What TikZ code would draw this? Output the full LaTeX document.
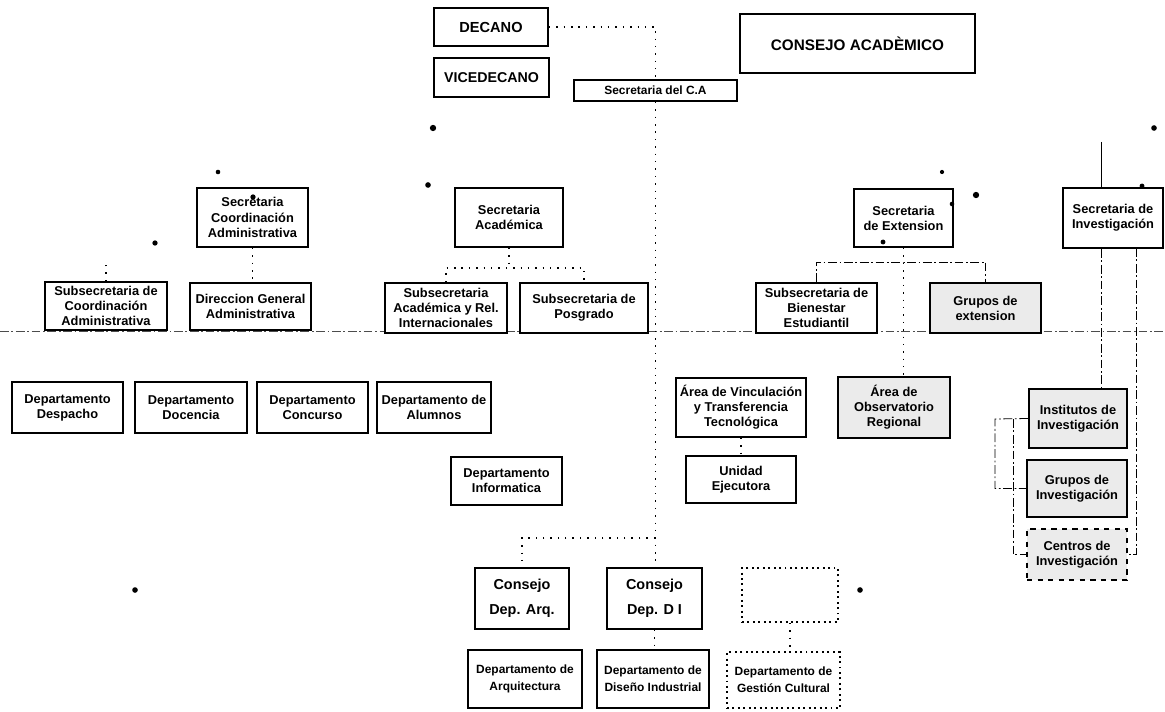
\documentclass[tikz,border=0pt]{standalone}
\usepackage{fontspec}
\setmainfont{Liberation Sans}
\usepackage{tikz}

\begin{document}
\begin{tikzpicture}[x=0.02cm,y=-0.02cm,
    caja/.style={draw,line width=1.1pt,fill=white,align=center,inner sep=1pt,
      font=\fontsize{7.3}{8.6}\selectfont\bfseries},
    sombra/.style={caja,fill=black!8},
    enlace/.style={line width=0.7pt,dash pattern=on 0.8pt off 3.4pt},
    guion/.style={line width=0.45pt,dash pattern=on 5pt off 1.5pt on 1pt off 1.5pt}]
  \useasboundingbox (0,0) rectangle (1165,712);
    % linea horizontal
  \coordinate (hizq) at (0,331);
  \coordinate (hder) at (1165,331);
  \draw[guion,black!70] (hizq) -- (hder);
    % direccion
      \node[caja,minimum width=2.28cm,minimum height=0.76cm,font=\fontsize{8.3}{10}\selectfont\bfseries] (dec) at (491,27) {DECANO};
      \node[caja,minimum width=2.3cm,minimum height=0.78cm,font=\fontsize{8.1}{10}\selectfont\bfseries] (vdec) at (491.5,77.5) {VICEDECANO};
      \node[caja,minimum width=3.26cm,minimum height=0.42cm,font=\fontsize{6.8}{7.5}\selectfont\bfseries] (secca) at (655.5,90.5) {Secretaria del C.A};
      \node[caja,minimum width=4.7cm,minimum height=1.18cm,font=\fontsize{8.7}{10}\selectfont\bfseries] (cacad) at (857.5,43.5) {CONSEJO ACADÈMICO};
    % secretarias
      \node[caja,minimum width=2.22cm,minimum height=1.18cm] (sca) at (252.5,217.5) {Secretaria\\Coordinación\\Administrativa};
      \node[caja,minimum width=2.16cm,minimum height=1.18cm] (sacad) at (509,217.5) {Secretaria\\Académica};
      \node[caja,minimum width=1.98cm,minimum height=1.16cm] (sext) at (903.5,218) {Secretaria\\de Extension};
      \node[caja,minimum width=2cm,minimum height=1.2cm] (sinv) at (1113,218) {Secretaria de\\Investigación};
    % subsecretarias
      \node[caja,minimum width=2.44cm,minimum height=0.96cm] (subca) at (106,306) {Subsecretaria de\\Coordinación\\Administrativa};
      \node[caja,minimum width=2.42cm,minimum height=0.94cm] (dga) at (250.5,306.5) {Direccion General\\Administrativa};
      \node[caja,minimum width=2.44cm,minimum height=1cm] (subacad) at (446,308) {Subsecretaria\\Académica y Rel.\\Internacionales};
      \node[caja,minimum width=2.56cm,minimum height=1cm] (subpos) at (584,308) {Subsecretaria de\\Posgrado};
      \node[caja,minimum width=2.42cm,minimum height=1cm] (subbien) at (816.5,308) {Subsecretaria de\\Bienestar\\Estudiantil};
      \node[sombra,minimum width=2.22cm,minimum height=1cm] (gext) at (985.5,308) {Grupos de\\extension};
    % departamentos
      \node[caja,minimum width=2.22cm,minimum height=1.02cm] (ddesp) at (67.5,407.5) {Departamento\\Despacho};
      \node[caja,minimum width=2.24cm,minimum height=1.02cm] (ddoc) at (191,407.5) {Departamento\\Docencia};
      \node[caja,minimum width=2.22cm,minimum height=1.02cm] (dconc) at (312.5,407.5) {Departamento\\Concurso};
      \node[caja,minimum width=2.28cm,minimum height=1.02cm] (dalum) at (434,407.5) {Departamento de\\Alumnos};
      \node[caja,minimum width=2.22cm,minimum height=0.96cm] (dinf) at (506.5,481) {Departamento\\Informatica};
    % extension
      \node[caja,minimum width=2.6cm,minimum height=1.18cm] (avinc) at (741,407.5) {Área de Vinculación\\y Transferencia\\Tecnológica};
      \node[sombra,minimum width=2.24cm,minimum height=1.22cm] (aobs) at (894,407.5) {Área de\\Observatorio\\Regional};
      \node[caja,minimum width=2.2cm,minimum height=0.94cm] (uejec) at (741,479.5) {Unidad\\Ejecutora};
    % investigacion
      \node[sombra,minimum width=1.96cm,minimum height=1.18cm] (inst) at (1078,418.5) {Institutos de\\Investigación};
      \node[sombra,minimum width=2cm,minimum height=1.14cm] (ginv) at (1077,488.5) {Grupos de\\Investigación};
      \node[sombra,dashed,minimum width=2cm,minimum height=1.02cm] (cinv) at (1077,554.5) {Centros de\\Investigación};
    % consejos y departamentos academicos
      \node[caja,minimum width=1.88cm,minimum height=1.22cm,font=\fontsize{8.2}{14}\selectfont\bfseries] (carq) at (522,598.5) {Consejo\\Dep. Arq.};
      \node[caja,minimum width=1.9cm,minimum height=1.22cm,font=\fontsize{8.2}{14}\selectfont\bfseries] (cdi) at (654.5,598.5) {Consejo\\Dep. D I};
      \node[caja,dotted,minimum width=1.92cm,minimum height=1.08cm] (cvac) at (790,595) {};
      \node[caja,line width=0.8pt,minimum width=2.28cm,minimum height=1.16cm,font=\fontsize{6.8}{9.5}\selectfont\bfseries] (darq) at (525,679) {Departamento de\\Arquitectura};
      \node[caja,minimum width=2.24cm,minimum height=1.16cm,font=\fontsize{6.8}{9.5}\selectfont\bfseries] (ddi) at (653,679) {Departamento de\\Diseño Industrial};
      \node[caja,dotted,minimum width=2.26cm,minimum height=1.12cm,font=\fontsize{6.8}{9.5}\selectfont\bfseries] (dgc) at (783.5,680) {Departamento de\\Gestión Cultural};
    % conexiones
      \draw[enlace] (dec) -| (secca);
      \draw[enlace] (secca.south) -- (secca.south |- cdi.north);
      \coordinate (jcons) at (655,538);
      \draw[enlace] (jcons) -| (carq.north);
      \draw[enlace] (cdi) -- (cdi |- ddi.north);
      \draw[enlace] (cvac) -- (cvac |- dgc.north);
      \draw[enlace] (sca) -- (sca |- dga.north);
      \coordinate (tca) at (106,262);
      \draw[enlace] (subca) -- (tca);
      \coordinate (jacad) at (509,268);
      \draw[enlace] (sacad) -- (jacad);
      \draw[enlace] (subacad.north) |- (jacad) -| (subpos.north);
      \draw[enlace] (sext) -- (sext |- aobs.north);
      \coordinate (jext) at (903.5,262);
      \draw[guion] (subbien.north) |- (jext) -| (gext.north);
      \draw[enlace] (avinc) -- (uejec);
    % investigacion
      \coordinate (sup) at (1101,142);
      \draw[line width=0.5pt] (sup) -- (sup |- sinv.north);
      \draw[guion] (sinv.south -| sup) -- (inst.north -| sup);
      \coordinate (dinv) at (1136,248);
      \draw[guion] (dinv) |- (cinv.east);
      \coordinate (iz1) at (995,419);
      \coordinate (iz2) at (1013,419);
      \draw[guion] (inst.west) -- (iz1) |- (ginv.west);
      \draw[guion] (iz2) |- (cinv.west);
    % puntos
      \foreach \px/\py/\r in {433/128/1.8,155/243/1.5,218/172/1.3,253/197/1.5,428/185/1.6,
        942/172/1.2,976/195/1.8,883/242/1.4,952/204/1.3,1154/128/1.6,1142/186/1.4,135/590/1.6,860/590/1.6}
        \fill (\px,\py) circle (\r pt);
\end{tikzpicture}
\end{document}
